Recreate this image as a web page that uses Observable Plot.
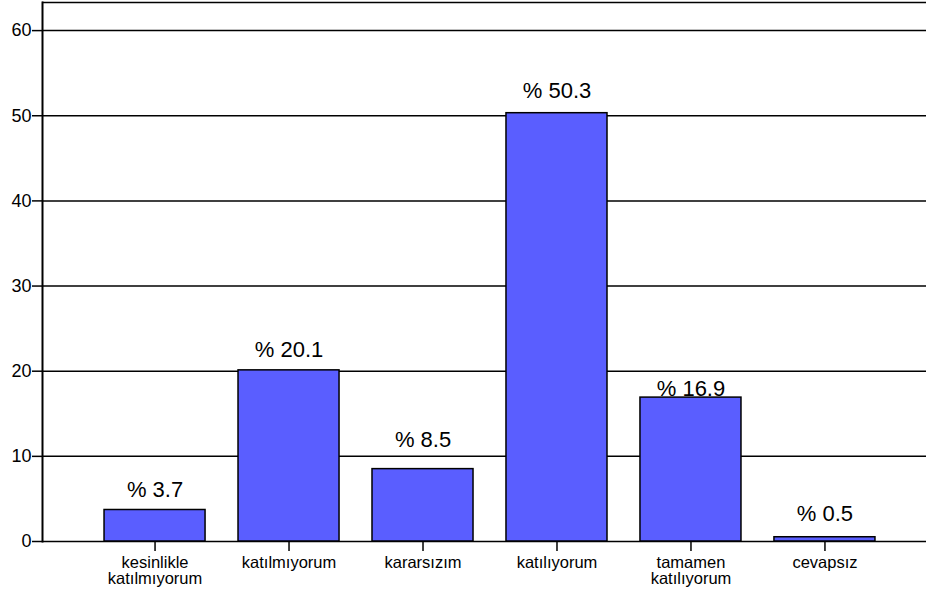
<!DOCTYPE html>
<html>
<head>
<meta charset="utf-8">
<script src="https://cdn.jsdelivr.net/npm/d3@7"></script>
<script src="https://cdn.jsdelivr.net/npm/@observablehq/plot@0.6"></script>
<style>
  html, body { margin: 0; padding: 0; background: #fff; }
  #chart svg { display: block; }
</style>
</head>
<body>
<div id="chart"></div>
<script>
const categories = ["kesinlikle katılmıyorum", "katılmıyorum", "kararsızım", "katılıyorum", "tamamen katılıyorum", "cevapsız"];
const tickLabels = ["kesinlikle\nkatılmıyorum", "katılmıyorum", "kararsızım", "katılıyorum", "tamamen\nkatılıyorum", "cevapsız"];
const percents = [3.7, 20.1, 8.5, 50.3, 16.9, 0.5];
const yTicks = [0, 10, 20, 30, 40, 50, 60];
const yTop = [63.3];

const data = categories.map((c, i) => ({category: c, value: percents[i]}));
const font = "'Liberation Sans', Arial, sans-serif";

// label placement (pixel offsets above bar tops, as in the original)
const labelDy = {"kesinlikle katılmıyorum": -13, "katılmıyorum": -13, "kararsızım": -22, "katılıyorum": -15, "tamamen katılıyorum": -2, "cevapsız": -16};
const labelMarks = data.map(d => Plot.text([d], {
  x: "category", y: "value", text: v => "% " + v.value, dy: labelDy[d.category],
  lineAnchor: "bottom", fontSize: 22, fill: "#000"
}));

const chart = Plot.plot({
  width: 926,
  height: 596,
  marginLeft: 42,
  marginRight: 0,
  marginTop: 2,
  marginBottom: 55,
  style: {fontFamily: font, background: "#fff", color: "#000", overflow: "visible"},
  x: {domain: categories, range: [42, 937], paddingInner: 0.246, paddingOuter: 0.463, round: false, axis: null},
  y: {domain: [0, yTop[0]], axis: null},
  marks: [
    Plot.ruleY(yTicks.concat(yTop), {stroke: "#000", strokeWidth: 1.5}),
    Plot.barY(data, {x: "category", y: "value", fill: "#5a5eff", stroke: "#000", strokeWidth: 1.5}),
    ...labelMarks,
    Plot.axisY({ticks: yTicks, tickSize: 10, tickPadding: 1, fontSize: 18, stroke: "#000", strokeWidth: 1.5, fill: "#000", label: null}),
    Plot.frame({anchor: "left", stroke: "#000", strokeWidth: 2}),
    Plot.axisX({
      tickSize: 10, tickPadding: 5, fontSize: 16.5, lineHeight: 0.98, stroke: "#000", strokeWidth: 1.5, fill: "#000",
      tickFormat: d => tickLabels[categories.indexOf(d)], label: null
    })
  ]
});
document.getElementById("chart").appendChild(chart);
</script>
</body>
</html>
